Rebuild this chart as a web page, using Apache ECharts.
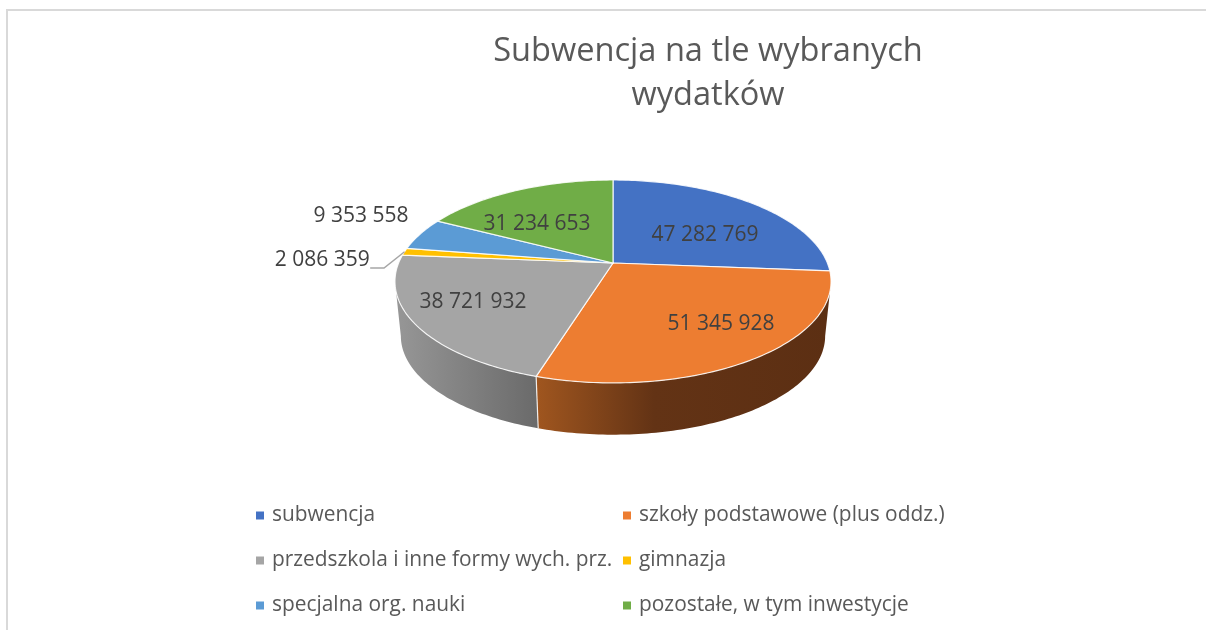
<!DOCTYPE html>
<html><head><meta charset="utf-8">
<style>html,body{margin:0;padding:0;background:#fff}#c{width:1206px;height:630px}</style>
<script src="https://cdn.jsdelivr.net/npm/echarts@6/dist/echarts.min.js"></script>
</head><body><div id="c"></div>
<script>
const categories = ['subwencja','szkoły podstawowe (plus oddz.)','przedszkola i inne formy wych. prz.','gimnazja','specjalna org. nauki','pozostałe, w tym inwestycje'];
const values = [47282769,51345928,38721932,2086359,9353558,31234653];
const valueLabels = ['47 282 769','51 345 928','38 721 932','2 086 359','9 353 558','31 234 653'];
const titleText = 'Subwencja na tle wybranych\nwydatków';

// styling / layout (not data)
const colors = ['#4472C4','#ED7D31','#A5A5A5','#FFC000','#5B9BD5','#70AD47'];
const wallStops = [
  null,
  [[0,'#A0561F'],[0.4,'#633315'],[1,'#5C2F13']],
  [[0,'#979797'],[1,'#6A6A6A']],
  null,null,null
];
// label anchors in unit-disc coordinates of the pie plane
const labelDisc = [[.454,-.324],[.454,.542],[-.611,.353],[-1.369,-.051],[-1.293,-.549],[-.384,-.453]];
const leaderDisc = [[-1.122,.051],[-1.058,.051]];
const LABEL_DY = 2;
const P = {cx:613, cy:263, A:98.1, B:214.4, k:0.182, depth:55, bottomScale:0.973};
const WALL_FROM = 100.5, WALL_TO = 259.5;

const total = values.reduce((a,b)=>a+b,0);
const starts = []; { let c=0; for(const v of values){starts.push(c/total*360); c+=v;} }

function proj(x,y,bottom){
  const w = 1-P.k*y, s = bottom?P.bottomScale:1, d = bottom?P.depth:0;
  return [P.cx+s*P.B*x/w, P.cy+d+s*P.A*y/w];
}
function rim(deg,bottom){
  const t=deg*Math.PI/180;
  return proj(Math.sin(t),-Math.cos(t),bottom);
}
function arc(a,b,bottom){
  const pts=[], n=Math.max(2,Math.ceil(Math.abs(b-a)/1));
  for(let i=0;i<=n;i++) pts.push(rim(a+(b-a)*i/n,bottom));
  return pts;
}
function renderSlice(i){
  return function(params,api){
    const val=api.value(0), a=starts[i], b=a+val/total*360;
    const children=[];
    const wa=Math.max(a,WALL_FROM), wb=Math.min(b,WALL_TO);
    if(wallStops[i] && wb>wa){
      const pts=arc(wa,wb,false).concat(arc(wb,wa,true));
      children.push({type:'polygon',shape:{points:pts},z2:1,
        style:{fill:new echarts.graphic.LinearGradient(0,0,1,0,wallStops[i].map(s=>({offset:s[0],color:s[1]})))}});
      if(b<=WALL_TO){
        children.push({type:'polyline',z2:2,shape:{points:[rim(b,false),rim(b,true)]},
          style:{stroke:'rgba(255,255,255,.85)',lineWidth:1.2,fill:'none'}});
      }
    }
    const top=[proj(0,0,false)].concat(arc(a,b,false));
    children.push({type:'polygon',shape:{points:top},z2:3,
      style:{fill:colors[i],stroke:'rgba(255,255,255,.85)',lineWidth:1.2,lineJoin:'round'}});
    if(i===3){
      const m=(a+b)/2;
      children.push({type:'polyline',z2:4,shape:{points:[proj(...leaderDisc[0],false),proj(...leaderDisc[1],false),rim(m,false)]},
        style:{stroke:'#A6A6A6',lineWidth:1.5,fill:'none'}});
    }
    const lp=proj(labelDisc[i][0],labelDisc[i][1],false);
    children.push({type:'text',z2:5,x:lp[0],y:lp[1]+LABEL_DY,
      style:{text:valueLabels[i],fill:'#404040',font:'21px "Open Sans"',textAlign:'center',textVerticalAlign:'middle'}});
    return {type:'group',children};
  };
}
const legendBase = {orient:'vertical',icon:'rect',itemWidth:8,itemHeight:8,itemGap:24,
  textStyle:{color:'#595959',fontFamily:'Open Sans',fontSize:20.9,padding:[0,0,0,3]},padding:0,selectedMode:false};
const chart=echarts.init(document.getElementById('c'),null,{renderer:'canvas'});
chart.setOption({
  animation:false,
  backgroundColor:'#fff',
  title:{text:titleText,left:708,top:30,textAlign:'center',padding:0,itemGap:0,
    textStyle:{color:'#595959',fontFamily:'Open Sans',fontWeight:'normal',fontSize:32.6,lineHeight:44}},
  legend:[
    Object.assign({},legendBase,{left:256,top:505,data:[categories[0],categories[2],categories[4]]}),
    Object.assign({},legendBase,{left:623,top:505,data:[categories[1],categories[3],categories[5]]})
  ],
  graphic:[
    {type:'polyline',silent:true,shape:{points:[[7,630],[7,10],[1206,10]]},style:{stroke:'#D9D9D9',lineWidth:2,fill:'none'}}
  ],
  series:categories.map((n,i)=>({type:'custom',name:n,coordinateSystem:'none',silent:true,
    itemStyle:{color:colors[i]},renderItem:renderSlice(i),data:[[values[i]]]}))
});
</script></body></html>
